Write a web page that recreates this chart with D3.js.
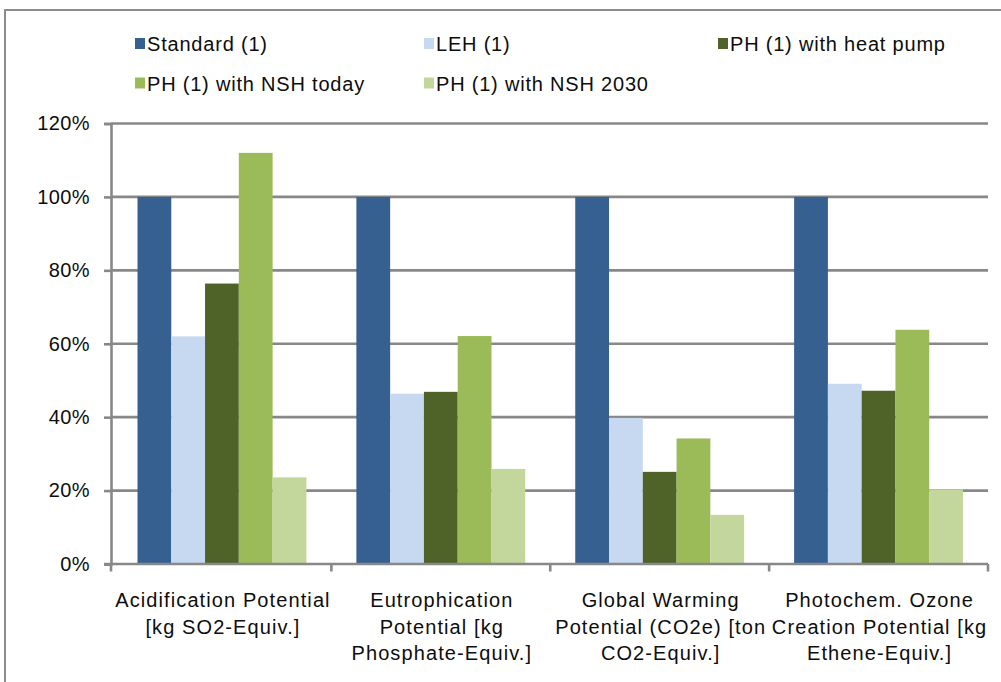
<!DOCTYPE html>
<html>
<head>
<meta charset="utf-8">
<script src="https://cdn.jsdelivr.net/npm/d3@7"></script>
<style>
  html, body { margin: 0; padding: 0; background: #fff; }
  svg { display: block; font-family: "Liberation Sans", Arial, sans-serif; }
</style>
</head>
<body>
<svg id="chart" width="1001" height="682"></svg>
<script>
// Impact categories (label lines as wrapped under the axis)
const categories = [
  ["Acidification Potential", "[kg SO2-Equiv.]"],
  ["Eutrophication", "Potential [kg", "Phosphate-Equiv.]"],
  ["Global Warming", "Potential (CO2e) [ton", "CO2-Equiv.]"],
  ["Photochem. Ozone", "Creation Potential [kg", "Ethene-Equiv.]"]
];

// Building variants, relative to the standard house (%)
const seriesNames = [
  "Standard (1)",
  "LEH (1)",
  "PH (1) with heat pump",
  "PH (1) with NSH today",
  "PH (1) with NSH 2030"
];
const standard      = [100, 100, 100, 100];
const leh           = [62.0, 46.4, 39.8, 49.1];
const phHeatPump    = [76.4, 46.9, 25.1, 47.2];
const phNshToday    = [112.0, 62.1, 34.2, 63.8];
const phNsh2030     = [23.6, 25.9, 13.4, 20.3];
const seriesValues  = [standard, leh, phHeatPump, phNshToday, phNsh2030];

const yTicks = [0, 20, 40, 60, 80, 100, 120];
const colors = ["#35608F", "#C6D9F1", "#4F6228", "#9BBB59", "#C3D69B"];

const svg = d3.select("#chart");
const gridColor = "#888888";
const textColor = "#0d0d0d";

// Outer chart frame (runs past the right and bottom edges)
svg.append("rect")
  .attr("x", 5).attr("y", 10)
  .attr("width", 1200).attr("height", 900)
  .attr("fill", "none")
  .attr("stroke", "#8c8c8c")
  .attr("stroke-width", 2);

const axisX = 111;
const plotRight = 988;
const y = d3.scaleLinear().domain([0, 120]).range([564, 123.5]);
const x0 = d3.scaleBand().domain(d3.range(categories.length)).range([112.5, plotRight]);
const groupGap = 25;
const x1 = d3.scaleBand().domain(d3.range(seriesNames.length))
  .range([groupGap, x0.bandwidth() - groupGap]);

// Horizontal gridlines
svg.append("g").selectAll("line")
  .data(yTicks.filter(d => d > 0))
  .join("line")
  .attr("x1", axisX).attr("x2", plotRight)
  .attr("y1", d => y(d)).attr("y2", d => y(d))
  .attr("stroke", gridColor).attr("stroke-width", 2.6);

// Bars
const rows = categories.map((c, i) => seriesValues.map((s, j) => ({ cat: i, ser: j, v: s[i] })));
svg.append("g").selectAll("g")
  .data(rows)
  .join("g")
  .attr("transform", (d, i) => `translate(${x0(i)},0)`)
  .selectAll("rect")
  .data(d => d)
  .join("rect")
  .attr("x", d => x1(d.ser))
  .attr("width", x1.bandwidth())
  .attr("y", d => y(d.v))
  .attr("height", d => y(0) - y(d.v))
  .attr("fill", d => colors[d.ser]);

// Y axis
const yAxis = d3.axisLeft(y)
  .tickValues(yTicks)
  .tickFormat(d => d + "%")
  .tickSize(7)
  .tickPadding(14);
const gy = svg.append("g").attr("transform", `translate(${axisX},0)`).call(yAxis);
gy.select(".domain").attr("stroke", gridColor).attr("stroke-width", 2.6);
gy.selectAll(".tick line").attr("stroke", gridColor).attr("stroke-width", 2.6);
gy.selectAll(".tick text")
  .attr("fill", textColor)
  .style("font-size", "20px")
  .style("letter-spacing", "0.4px")
  .style("font-family", "'Liberation Sans', Arial, sans-serif");

// X axis line with ticks at category boundaries
const bounds = d3.range(categories.length + 1).map(i => i === 0 ? axisX : x0(0) + i * x0.step());
svg.append("line")
  .attr("x1", axisX - 7).attr("x2", plotRight)
  .attr("y1", y(0)).attr("y2", y(0))
  .attr("stroke", gridColor).attr("stroke-width", 2.6);
svg.append("g").selectAll("line")
  .data(bounds)
  .join("line")
  .attr("x1", d => d).attr("x2", d => d)
  .attr("y1", y(0)).attr("y2", y(0) + 7.5)
  .attr("stroke", gridColor).attr("stroke-width", 2.6);

// Category labels
const catLabels = svg.append("g").selectAll("text")
  .data(categories)
  .join("text")
  .attr("text-anchor", "middle")
  .attr("fill", textColor)
  .style("font-size", "20px")
  .style("letter-spacing", "1.1px")
  .attr("transform", (d, i) => `translate(${x0(i) + x0.bandwidth() / 2 + 1},0)`);
catLabels.selectAll("tspan")
  .data(d => d)
  .join("tspan")
  .attr("x", 0)
  .attr("y", (d, i) => 607 + i * 26.5)
  .text(d => d);

// Legend
const legendCols = [135, 424, 718];
const legendRows = [38, 77.5];
const legend = svg.append("g").selectAll("g")
  .data(seriesNames)
  .join("g")
  .attr("transform", (d, i) => `translate(${legendCols[i % 3]},${legendRows[Math.floor(i / 3)]})`);
legend.append("rect")
  .attr("width", 10).attr("height", 11)
  .attr("fill", (d, i) => colors[i]);
legend.append("text")
  .attr("x", 12).attr("y", 13)
  .attr("fill", textColor)
  .style("font-size", "20px")
  .style("letter-spacing", "0.8px")
  .text(d => d);
</script>
</body>
</html>
